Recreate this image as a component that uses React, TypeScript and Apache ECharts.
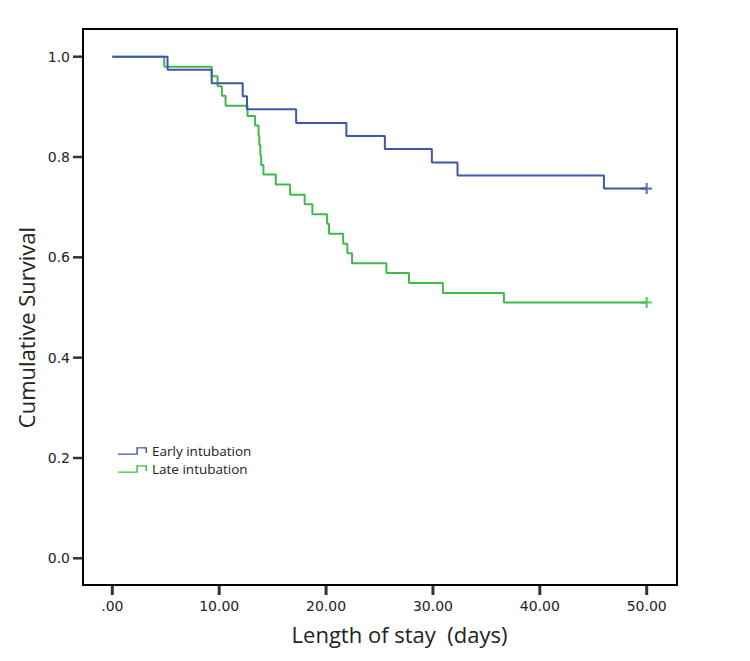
import React, { useEffect, useRef } from "react";
import * as echarts from "echarts";

// Kaplan–Meier steps (time in days, cumulative survival)
const earlyTimes = [0, 5.17, 9.3, 12.2, 12.6, 17.2, 21.9, 25.5, 29.9, 32.3, 46.0, 50.0];
const earlySurvival = [1.0, 0.974, 0.947, 0.921, 0.895, 0.868, 0.842, 0.816, 0.789, 0.763, 0.737, 0.737];

const lateTimes = [
  0, 4.86, 9.3, 9.85, 10.25, 10.6, 12.65, 13.36, 13.68, 13.75, 13.85, 13.93, 14.14, 15.3, 16.64, 18.0,
  18.72, 20.1, 20.28, 21.6, 21.99, 22.43, 25.64, 27.76, 30.93, 36.64, 50.0,
];
const lateSurvival = [
  1.0, 0.98, 0.961, 0.941, 0.922, 0.902, 0.882, 0.863, 0.843, 0.824, 0.804, 0.784, 0.765, 0.745, 0.725, 0.706,
  0.686, 0.667, 0.647, 0.627, 0.608, 0.588, 0.569, 0.549, 0.529, 0.51, 0.51,
];

const seriesNames = ["Early intubation", "Late intubation"];
const xMin = 0, xMax = 50, xInterval = 10;
const yMin = 0, yMax = 1, yInterval = 0.2;
const xTicks = [0, 10, 20, 30, 40, 50];
const yTicks = [0, 0.2, 0.4, 0.6, 0.8, 1.0];

const BLUE = "#3d55ad";
const GREEN = "#3fb94a";

const STEP_ICON = "path://M0,6.5 H19 V0 H30 V6 H28.5 V1.5 H20.5 V8 H0 Z";
const PLUS = "path://M4,0 H6 V4 H10 V6 H6 V10 H4 V6 H0 V4 H4 Z";

const FRAME = { x: 83, y: 29, width: 594, height: 556 };
const GRID = { left: 112.3, top: 56.7, width: 534.4, height: 501.6 };
const TICK_LEN = 10;

export default function App() {
  const ref = useRef<HTMLDivElement>(null);

  useEffect(() => {
    if (!ref.current) return;
    const chart = echarts.init(ref.current, null, { renderer: "svg" });
    const early = earlyTimes.map((t, i) => [t, earlySurvival[i]]);
    const late = lateTimes.map((t, i) => [t, lateSurvival[i]]);
    const xAxisOffset = FRAME.y + FRAME.height - (GRID.top + GRID.height);
    const yAxisOffset = GRID.left - FRAME.x;
    chart.setOption({
      animation: false,
      backgroundColor: "#ffffff",
      grid: { ...GRID, show: false },
      graphic: [
        {
          id: "frame",
          type: "rect",
          z: 0,
          shape: { ...FRAME },
          style: { fill: "none", stroke: "#000", lineWidth: 2 },
          silent: true,
        },
      ],
      legend: {
        orient: "vertical",
        left: 118,
        top: 444,
        padding: 0,
        itemWidth: 29,
        itemHeight: 8,
        itemGap: 4,
        data: [
          { name: seriesNames[0], icon: STEP_ICON },
          { name: seriesNames[1], icon: STEP_ICON },
        ],
        textStyle: { fontFamily: "Open Sans", fontSize: 13.5, color: "#222" },
      },
      xAxis: {
        type: "value",
        min: xMin,
        max: xMax,
        interval: xInterval,
        offset: xAxisOffset,
        name: "Length of stay  (days)",
        nameLocation: "middle",
        nameGap: 38,
        nameTextStyle: {
          fontFamily: "Open Sans",
          fontSize: 22,
          color: "#222",
          padding: [0, 0, 0, 40],
        },
        axisLine: { show: false, onZero: false },
        axisTick: { show: false },
        axisLabel: {
          margin: 14,
          fontFamily: "DejaVu Sans",
          fontSize: 14,
          color: "#222",
          formatter: (v: number) => (v === 0 ? ".00" : v.toFixed(2)),
        },
        splitLine: { show: false },
      },
      yAxis: {
        type: "value",
        min: yMin,
        max: yMax,
        interval: yInterval,
        offset: yAxisOffset,
        name: "Cumulative Survival",
        nameLocation: "middle",
        nameGap: 44,
        nameTextStyle: {
          fontFamily: "Open Sans",
          fontSize: 22,
          color: "#222",
          padding: [0, 40, 0, 0],
        },
        axisLine: { show: false, onZero: false },
        axisTick: { show: false },
        axisLabel: {
          margin: 13,
          fontFamily: "DejaVu Sans",
          fontSize: 14,
          color: "#222",
          formatter: (v: number) => v.toFixed(1),
        },
        splitLine: { show: false },
      },
      series: [
        {
          name: seriesNames[0],
          type: "line",
          step: "end",
          data: early,
          symbol: "none",
          clip: false,
          color: BLUE,
          lineStyle: { color: BLUE, width: 2 },
          z: 3,
        },
        {
          name: seriesNames[1],
          type: "line",
          step: "end",
          data: late,
          symbol: "none",
          clip: false,
          color: GREEN,
          lineStyle: { color: GREEN, width: 2 },
          z: 2,
        },
        {
          name: "Early censored",
          type: "scatter",
          data: [early[early.length - 1]],
          symbol: PLUS,
          symbolSize: 11,
          clip: false,
          itemStyle: { color: BLUE },
          z: 4,
        },
        {
          name: "Late censored",
          type: "scatter",
          data: [late[late.length - 1]],
          symbol: PLUS,
          symbolSize: 11,
          clip: false,
          itemStyle: { color: GREEN },
          z: 4,
        },
        {
          name: "x ticks",
          type: "scatter",
          silent: true,
          clip: false,
          data: xTicks.map((v) => [v, yMin]),
          symbol: "rect",
          symbolSize: [3, TICK_LEN],
          symbolOffset: [0, xAxisOffset + TICK_LEN / 2],
          itemStyle: { color: "#000" },
          z: 6,
        },
        {
          name: "y ticks",
          type: "scatter",
          silent: true,
          clip: false,
          data: yTicks.map((v) => [xMin, v]),
          symbol: "rect",
          symbolSize: [TICK_LEN, 2.5],
          symbolOffset: [-yAxisOffset - TICK_LEN / 2, 0],
          itemStyle: { color: "#000" },
          z: 6,
        },
      ],
    });

    return () => chart.dispose();
  }, []);

  return (
    <div
      ref={ref}
      style={{ position: "fixed", left: 0, top: 0, width: 750, height: 661, background: "#fff" }}
    />
  );
}
